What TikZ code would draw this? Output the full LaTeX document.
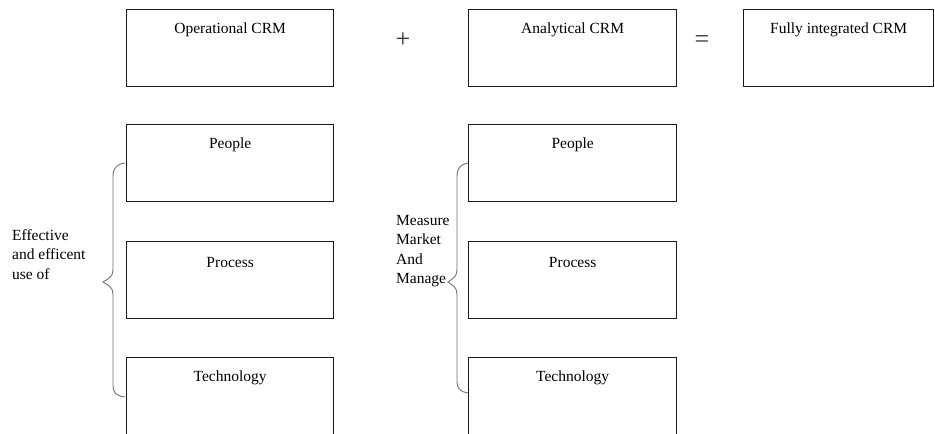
\documentclass[tikz,border=0pt]{standalone}
\usepackage{fontspec}
\setmainfont{Liberation Serif}
\begin{document}
\begin{tikzpicture}[x=1pt,y=-1pt,
  box/.style={draw=black!90,line width=1.3pt,minimum width=207pt,minimum height=77pt,inner sep=0pt,anchor=north west},
  lbl/.style={font=\fontsize{15.5}{17}\selectfont,inner sep=0pt,text=black},
  side/.style={font=\fontsize{15.5}{19.5}\selectfont,inner sep=0pt,align=left,anchor=north west,text=black},
  op/.style={font=\fontsize{26}{26}\selectfont,inner sep=0pt,text=black!80},
  brc/.style={draw=black!55,line width=0.9pt}]
\clip (0,0) rectangle (935,434);
\fill[white] (0,0) rectangle (935,434);
% top row
\node[box] (opcrm) at (126,9) {};
\node[lbl] (opt) at ([yshift=-21]opcrm.north) {Operational CRM};
\node[box,minimum width=208pt] (ancrm) at (468,9) {};
\node[lbl] (ant) at ([yshift=-21]ancrm.north) {Analytical CRM};
\node[box,minimum width=190pt] (fcrm) at (743,9) {};
\node[lbl] (ft) at ([yshift=-21]fcrm.north) {Fully integrated CRM};
\node[op] (plus) at (403,40) {+};
\node[op] (eq) at (702,42) {=};
% left column
\node[box] (lp) at (126,124) {};
\node[lbl] (lpt) at ([yshift=-21]lp.north) {People};
\node[box] (lr) at (126,241) {};
\node[lbl] (lrt) at ([yshift=-21]lr.north) {Process};
\node[box,minimum height=90pt] (lt) at (126,357) {};
\node[lbl] (ltt) at ([yshift=-21]lt.north) {Technology};
% middle column
\node[box,minimum width=208pt] (mp) at (468,124) {};
\node[lbl] (mpt) at ([yshift=-21]mp.north) {People};
\node[box,minimum width=208pt] (mr) at (468,241) {};
\node[lbl] (mrt) at ([yshift=-21]mr.north) {Process};
\node[box,minimum width=208pt,minimum height=90pt] (mt) at (468,357) {};
\node[lbl] (mtt) at ([yshift=-21]mt.north) {Technology};
% side texts
\node[side] (eff) at (12,229) {Effective\\and efficent\\use of};
\node[side] (mea) at (396,215) {Measure\\Market\\And\\Manage};
% braces
\draw[brc] (125,163) .. controls (117,164) and (113,168) .. (113,176)
  -- (113,270) .. controls (113,277) and (108,279) .. (103,282)
  .. controls (108,285) and (113,287) .. (113,294)
  -- (113,386) .. controls (113,393) and (117,396) .. (125,397);
\draw[brc] (468,163) .. controls (461,164) and (457,168) .. (457,176)
  -- (457,270) .. controls (457,277) and (452,279) .. (448,282)
  .. controls (452,285) and (457,287) .. (457,294)
  -- (457,382) .. controls (457,389) and (461,392) .. (468,393);
\end{tikzpicture}
\end{document}
